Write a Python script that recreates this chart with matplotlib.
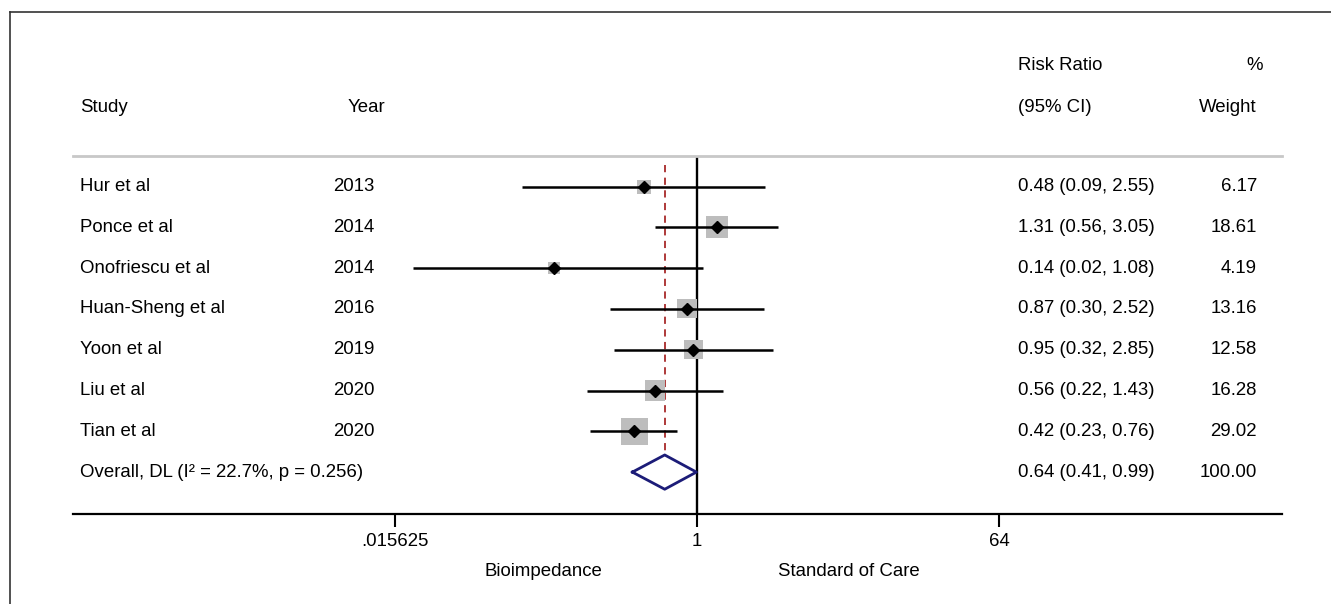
import matplotlib
matplotlib.use("Agg")
import matplotlib.pyplot as plt
import matplotlib.transforms as mtransforms
from matplotlib.lines import Line2D
import numpy as np

plt.rcParams['font.family'] = ['Liberation Sans', 'DejaVu Sans']

# ---- data ----
studies = ["Hur et al", "Ponce et al", "Onofriescu et al", "Huan-Sheng et al",
           "Yoon et al", "Liu et al", "Tian et al"]
years = ["2013", "2014", "2014", "2016", "2019", "2020", "2020"]
rr = [0.48, 1.31, 0.14, 0.87, 0.95, 0.56, 0.42]
ci_lo = [0.09, 0.56, 0.02, 0.30, 0.32, 0.22, 0.23]
ci_hi = [2.55, 3.05, 1.08, 2.52, 2.85, 1.43, 0.76]
weights = [6.17, 18.61, 4.19, 13.16, 12.58, 16.28, 29.02]
overall_label = "Overall, DL (I\u00b2 = 22.7%, p = 0.256)"
overall_rr, overall_lo, overall_hi = 0.64, 0.41, 0.99
overall_weight = 100.00
tick_values = [0.015625, 1, 64]
tick_labels = [".015625", "1", "64"]

W, H = 1331, 604
fig = plt.figure(figsize=(W / 100, H / 100), dpi=100)

def fx(px):
    return px / W

def fy(py):
    return 1 - py / H

ax = fig.add_axes([fx(73), fy(514), fx(1282) - fx(73), fy(156) - fy(514)])
ax.set_xscale('log', base=2)
ax.set_xlim(2 ** -12.40, 2 ** 11.62)
ax.set_ylim(8.027, -0.748)

fs = 13.4
n = len(studies)
rows = np.arange(n)
orow = n

# null line
ax.axvline(1, color='black', lw=1.7, zorder=1)
# overall dashed line
ax.vlines(overall_rr, -0.52, orow - 0.42, colors='#a82a2a', linestyles=(0, (4, 3)), lw=1.3, zorder=2)

# CI lines
ax.hlines(rows, ci_lo, ci_hi, colors='black', lw=1.8, zorder=3)
# weight boxes (side in px grows with sqrt(weight))
side_px = 2.9 + 4.47 * np.sqrt(np.array(weights))
ax.scatter(rr, rows, s=(side_px * 0.72) ** 2, marker='s', color='#bdbdbd',
           edgecolors='none', zorder=2.5)
# point estimates
ax.plot(rr, rows, linestyle='none', marker='D', ms=6.3, color='black', zorder=4)

# overall diamond
dx = [overall_lo, overall_rr, overall_hi, overall_rr, overall_lo]
dy = [orow, orow - 0.42, orow, orow + 0.42, orow]
ax.plot(dx, dy, color='#1c1c78', lw=2.0, zorder=5)

# axes styling
for s in ['left', 'right']:
    ax.spines[s].set_visible(False)
ax.spines['top'].set_color('#c8c8c8')
ax.spines['top'].set_linewidth(2)
ax.spines['bottom'].set_linewidth(1.6)
ax.set_yticks([])
ax.xaxis.set_minor_locator(matplotlib.ticker.NullLocator())
ax.set_xticks(tick_values)
ax.set_xticklabels(tick_labels)
ax.tick_params(axis='x', length=9, width=1.5, labelsize=fs, pad=5, direction='out')

# text columns
tr = mtransforms.blended_transform_factory(fig.transFigure, ax.transData)
def rowy(py):
    return (py - 186.5) / 40.8

ax.text(fx(80), rowy(107), "Study", transform=tr, ha='left', va='center', fontsize=fs, clip_on=False)
ax.text(fx(348), rowy(107), "Year", transform=tr, ha='left', va='center', fontsize=fs, clip_on=False)
ax.text(fx(1018), rowy(65), "Risk Ratio", transform=tr, ha='left', va='center', fontsize=fs, clip_on=False)
ax.text(fx(1018), rowy(107), "(95% CI)", transform=tr, ha='left', va='center', fontsize=fs, clip_on=False)
ax.text(fx(1263), rowy(65), "%", transform=tr, ha='right', va='center', fontsize=fs, clip_on=False)
ax.text(fx(1257), rowy(107), "Weight", transform=tr, ha='right', va='center', fontsize=fs, clip_on=False)

for i in range(n):
    ax.text(fx(80), i, studies[i], transform=tr, ha='left', va='center', fontsize=fs, clip_on=False)
    ax.text(fx(333), i, years[i], transform=tr, ha='left', va='center', fontsize=fs, clip_on=False)
    ax.text(fx(1018), i, f"{rr[i]:.2f} ({ci_lo[i]:.2f}, {ci_hi[i]:.2f})", transform=tr,
            ha='left', va='center', fontsize=fs, clip_on=False)
    ax.text(fx(1257), i, f"{weights[i]:.2f}", transform=tr, ha='right', va='center', fontsize=fs, clip_on=False)

ax.text(fx(80), orow, overall_label, transform=tr, ha='left', va='center', fontsize=fs, clip_on=False)
ax.text(fx(1018), orow, f"{overall_rr:.2f} ({overall_lo:.2f}, {overall_hi:.2f})", transform=tr,
        ha='left', va='center', fontsize=fs, clip_on=False)
ax.text(fx(1257), orow, f"{overall_weight:.2f}", transform=tr, ha='right', va='center', fontsize=fs, clip_on=False)

# direction labels
fig.text(fx(543), fy(572), "Bioimpedance", ha='center', va='center', fontsize=fs)
fig.text(fx(849), fy(572), "Standard of Care", ha='center', va='center', fontsize=fs)

# outer frame (top and left edges visible)
fig.add_artist(Line2D([fx(10), 1.0], [fy(12), fy(12)], transform=fig.transFigure, color='#333333', lw=1.2))
fig.add_artist(Line2D([fx(10), fx(10)], [fy(12), 0.0], transform=fig.transFigure, color='#333333', lw=1.2))

fig.savefig("out.png", dpi=100)
